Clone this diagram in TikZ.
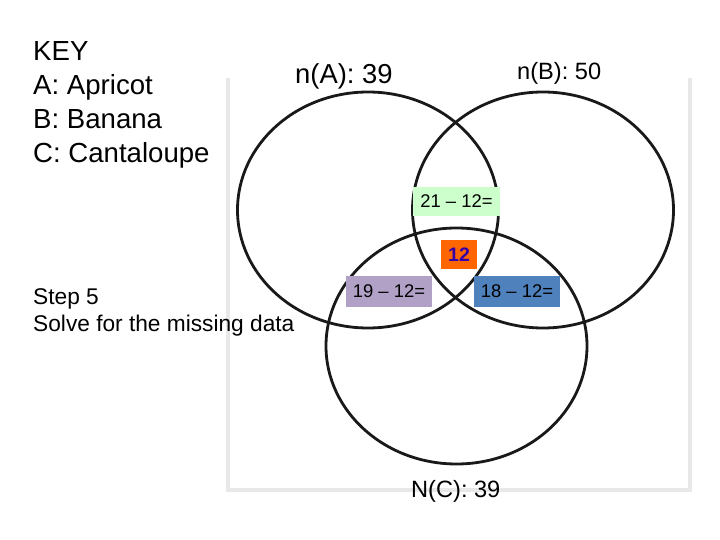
\documentclass[tikz,border=0pt]{standalone}
\usepackage{fontspec}
\setmainfont{Liberation Sans}
\usepackage{xcolor}
\usepackage{tikz}
\usetikzlibrary{positioning,shapes.geometric}
\definecolor{ringcol}{RGB}{25,25,25}
\definecolor{framecol}{RGB}{232,232,232}
\definecolor{abfill}{RGB}{204,255,204}
\definecolor{abcfill}{RGB}{255,102,0}
\definecolor{acfill}{RGB}{178,161,199}
\definecolor{bcfill}{RGB}{79,129,189}
\definecolor{midtext}{RGB}{51,0,170}

\begin{document}
\begin{tikzpicture}[
  x=1pt, y=-1pt,
  ring/.style={draw=ringcol, line width=2.8pt, ellipse, inner sep=0pt,
               minimum width=261pt, minimum height=236pt},
  keytext/.style={font=\fontsize{27.6}{34}\selectfont, align=left, inner sep=0pt},
  settext/.style={inner sep=0pt, anchor=base west},
  part/.style={inner sep=0pt, minimum height=29pt, font=\fontsize{18.4}{20}\selectfont},
]
  \useasboundingbox (0,0) rectangle (720,540);

  % picture frame behind the diagram
  \draw[framecol, line width=3.5pt] (228,78) -- (228,490) -- (690,490) -- (690,78);

  \node[ring] (A) at (368,210) {};
  \node[ring] (B) at (543,210) {};
  \node[ring] (C) at (456.5,346) {};

  \node[part, fill=abfill, minimum width=87pt] (ab) at (456.5,201.5) {21 -- 12=};
  \node[part, fill=abcfill, minimum width=36pt, text=midtext,
        font=\fontsize{19.5}{20}\selectfont\bfseries] (abc) at (459,254.5) {12};
  \node[part, fill=acfill, minimum width=86pt, minimum height=31pt] (ac) at (389,291.5) {19 -- 12=};
  \node[part, fill=bcfill, minimum width=86pt, minimum height=31pt] (bc) at (517,291.5) {18 -- 12=};

  \node[settext, font=\fontsize{27.4}{30}\selectfont] (nA) at (295,84) {n(A): 39};
  \node[settext, font=\fontsize{23.6}{28}\selectfont] (nB) at (517,80) {n(B): 50};
  \node[settext, font=\fontsize{23.6}{28}\selectfont] (nC) at (411,497) {N(C): 39};

  % base of a multi-line node is its last line
  \node[keytext, anchor=base west] (key) at (33,163)
    {KEY\\A: Apricot\\B: Banana\\C: Cantaloupe};
  \node[keytext, anchor=base west, font=\fontsize{22.7}{27}\selectfont] (step) at (33,331)
    {Step 5\\Solve for the missing data};
\end{tikzpicture}
\end{document}
